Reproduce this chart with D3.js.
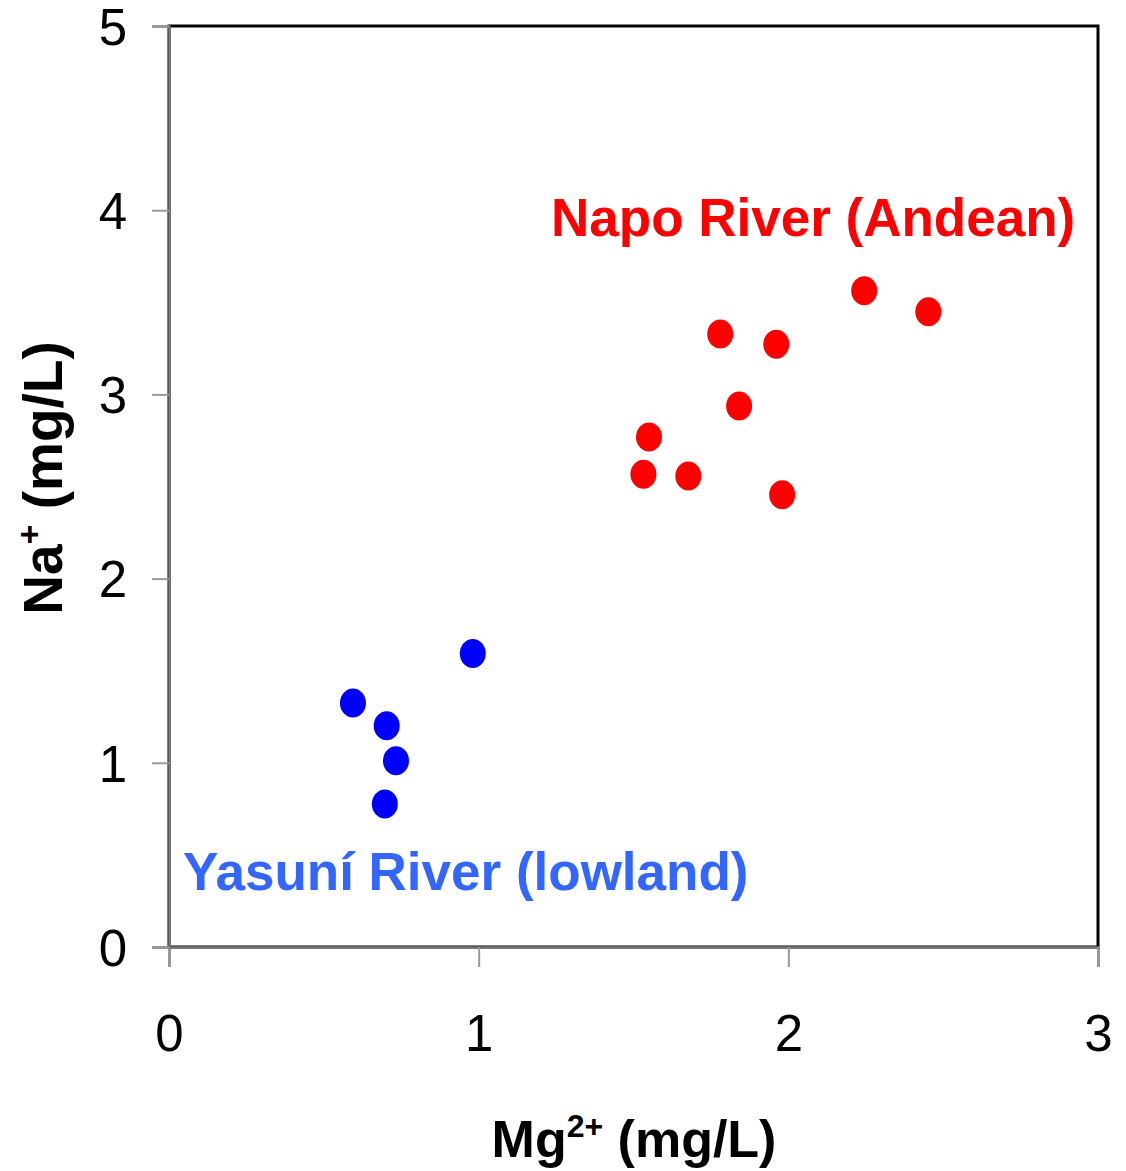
<!DOCTYPE html>
<html>
<head>
<meta charset="utf-8">
<title>Na vs Mg</title>
<script src="https://d3js.org/d3.v7.min.js"></script>
<style>
  body { margin: 0; background: #fff; }
  text { font-family: "Liberation Sans", Arial, sans-serif; }
</style>
</head>
<body>
<svg width="1126" height="1171" id="mainsvg"></svg>
<script>
// Napo River (Andean) samples
const napoMg = [2.245, 2.452, 1.780, 1.961, 1.841, 1.550, 1.532, 1.677, 1.980];
const napoNa = [3.563, 3.449, 3.328, 3.272, 2.937, 2.769, 2.566, 2.557, 2.455];
// Yasuni River (lowland) samples
const yasMg = [0.981, 0.594, 0.703, 0.733, 0.697];
const yasNa = [1.594, 1.325, 1.201, 1.011, 0.776];

const xTicks = [0, 1, 2, 3];
const yTicks = [0, 1, 2, 3, 4, 5];

const svg = d3.select('#mainsvg');
const margin = { top: 26, right: 28, bottom: 224, left: 169 };
const width = 1126 - margin.left - margin.right;
const height = 1171 - margin.top - margin.bottom;

const g = svg.append('g').attr('transform', `translate(${margin.left},${margin.top})`);

const x = d3.scaleLinear().domain([0, 3]).range([0, width]);
const y = d3.scaleLinear().domain([0, 5]).range([height, 0]);

// frame
g.append('rect')
  .attr('width', width).attr('height', height)
  .attr('fill', 'none').attr('stroke', '#000').attr('stroke-width', 3);

// axes
const xAxis = g.append('g').attr('transform', `translate(0,${height})`)
  .call(d3.axisBottom(x).tickValues(xTicks).tickSize(20).tickPadding(48).tickFormat(d3.format('d')));
const yAxis = g.append('g')
  .call(d3.axisLeft(y).tickValues(yTicks).tickSize(17).tickPadding(25).tickFormat(d3.format('d')));

[xAxis, yAxis].forEach(a => {
  a.select('.domain').attr('stroke', '#777').attr('stroke-width', 2.5);
  a.selectAll('.tick line').attr('stroke', '#999').attr('stroke-width', 2);
  a.selectAll('.tick text').attr('fill', '#000').style('font-size', '51px')
    .style('font-family', '"Liberation Sans", Arial, sans-serif');
});
yAxis.selectAll('.tick text').attr('dy', '0.36em');

// points
const napo = napoMg.map((m, i) => ({ m: m, n: napoNa[i] }));
const yas = yasMg.map((m, i) => ({ m: m, n: yasNa[i] }));

g.selectAll('.napo').data(napo).enter().append('ellipse')
  .attr('class', 'napo')
  .attr('cx', d => x(d.m)).attr('cy', d => y(d.n))
  .attr('rx', 13).attr('ry', 14.5)
  .attr('fill', '#ff0000');

g.selectAll('.yas').data(yas).enter().append('ellipse')
  .attr('class', 'yas')
  .attr('cx', d => x(d.m)).attr('cy', d => y(d.n))
  .attr('rx', 13).attr('ry', 14.5)
  .attr('fill', '#0000ff');

// group labels
g.append('text')
  .attr('x', 551 - margin.left).attr('y', 236 - margin.top)
  .attr('fill', '#ff0000').style('font-size', '53px').style('font-weight', 'bold')
  .text('Napo River (Andean)');

g.append('text')
  .attr('x', 183 - margin.left).attr('y', 890 - margin.top)
  .attr('fill', '#3366ff').style('font-size', '53px').style('font-weight', 'bold')
  .text('Yasuní River (lowland)');

// axis titles
const xt = svg.append('text')
  .attr('x', 634).attr('y', 1157)
  .attr('text-anchor', 'middle')
  .style('font-size', '52px').style('font-weight', 'bold').attr('fill', '#000');
xt.append('tspan').text('Mg');
xt.append('tspan').attr('dy', -20).style('font-size', '32px').text('2+');
xt.append('tspan').attr('dy', 20).text(' (mg/L)');

const yt = svg.append('text')
  .attr('transform', 'translate(62,478) rotate(-90)')
  .attr('text-anchor', 'middle')
  .style('font-size', '55px').style('font-weight', 'bold').attr('fill', '#000');
yt.append('tspan').text('Na');
yt.append('tspan').attr('dy', -21).style('font-size', '34px').text('+');
yt.append('tspan').attr('dy', 21).text(' (mg/L)');
</script>
</body>
</html>
